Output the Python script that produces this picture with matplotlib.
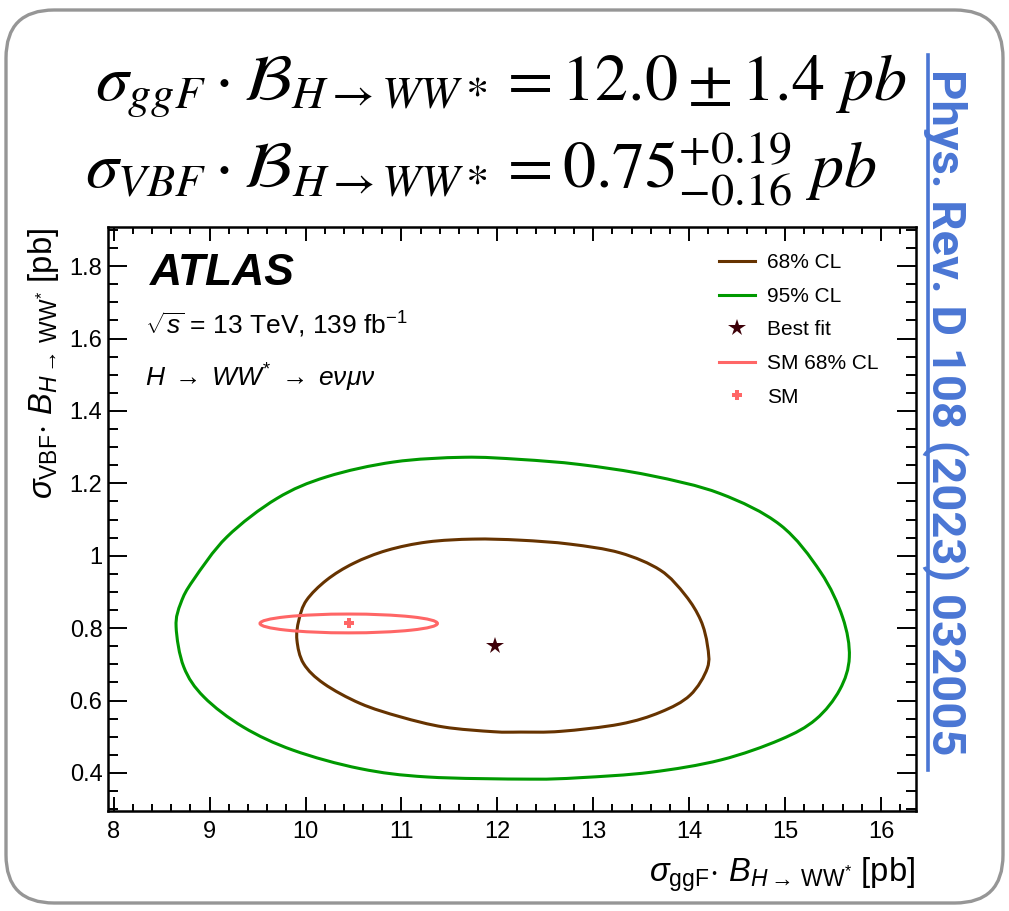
import matplotlib
matplotlib.use("Agg")
import matplotlib.pyplot as plt
from matplotlib.lines import Line2D
from matplotlib.patches import Ellipse, FancyBboxPatch, PathPatch
from matplotlib.path import Path
from matplotlib.ticker import MultipleLocator, FormatStrFormatter

# ── fonts ────────────────────────────────────────────────
plt.rcParams["font.family"] = ["Liberation Sans", "DejaVu Sans"]
plt.rcParams["mathtext.fontset"] = "custom"
plt.rcParams["mathtext.rm"] = "Liberation Sans"
plt.rcParams["mathtext.it"] = "Liberation Sans:italic"
plt.rcParams["mathtext.bf"] = "Liberation Sans:bold"

# ── 95% CL contour (sigma_ggF*B, sigma_VBF*B) ────────────
CL95_X = [11.65, 12.24, 12.86, 13.59, 14.32, 14.95, 15.37, 15.60, 15.67, 15.57,
          15.32, 14.95, 14.33, 13.60, 12.86, 12.34, 11.27, 10.57, 9.87, 9.35,
          8.94, 8.73, 8.65, 8.70, 8.83, 9.18, 9.70, 10.22, 10.92]
CL95_Y = [1.272, 1.266, 1.252, 1.222, 1.172, 1.085, 0.955, 0.830, 0.720, 0.630,
          0.548, 0.492, 0.436, 0.402, 0.387, 0.383, 0.389, 0.412, 0.463, 0.527,
          0.610, 0.693, 0.804, 0.870, 0.933, 1.052, 1.158, 1.218, 1.259]

# ── 68% CL contour ───────────────────────────────────────
CL68_X = [11.75, 12.24, 12.76, 13.28, 13.70, 13.96, 14.12, 14.19, 14.19, 14.01,
          13.70, 13.28, 12.66, 12.24, 11.96, 11.44, 10.99, 10.57, 10.19, 9.98,
          9.91, 9.93, 10.01, 10.22, 10.50, 10.85, 11.27]
CL68_Y = [1.046, 1.043, 1.032, 1.008, 0.960, 0.891, 0.822, 0.753, 0.690, 0.615,
          0.568, 0.535, 0.515, 0.513, 0.514, 0.527, 0.555, 0.592, 0.647, 0.702,
          0.767, 0.822, 0.877, 0.933, 0.979, 1.015, 1.038]

BEST_FIT = (11.98, 0.752)
SM_POINT = (10.45, 0.813)
SM_WIDTH = 1.85     # full extent of SM 68% CL in ggF
SM_HEIGHT = 0.052   # full extent of SM 68% CL in VBF

XLIM = (7.94, 16.36)
YLIM = (0.295, 1.908)

C68 = "#663300"
C95 = "#009900"
CSM = "#ff6666"
CBEST = "#3d0008"
CLINK = "#4a76d4"


def closed_curve(xs, ys):
    """Smooth closed path through the contour points (Catmull-Rom as cubic Bezier)."""
    n = len(xs)
    pts = list(zip(xs, ys))
    verts = [pts[0]]
    codes = [Path.MOVETO]
    for i in range(n):
        p0, p1 = pts[i - 1], pts[i]
        p2, p3 = pts[(i + 1) % n], pts[(i + 2) % n]
        c1 = (p1[0] + (p2[0] - p0[0]) / 6, p1[1] + (p2[1] - p0[1]) / 6)
        c2 = (p2[0] - (p3[0] - p1[0]) / 6, p2[1] - (p3[1] - p1[1]) / 6)
        verts += [c1, c2, p2]
        codes += [Path.CURVE4] * 3
    return Path(verts, codes)


W, H = 1009, 911
fig = plt.figure(figsize=(W / 100, H / 100), dpi=100)

# background layer in pixel coordinates (frame, headline, reference)
bg = fig.add_axes([0, 0, 1, 1], zorder=-1)
bg.set_xlim(0, W)
bg.set_ylim(H, 0)
bg.axis("off")
bg.add_patch(FancyBboxPatch((6, 10), 997, 893,
                            boxstyle="round,pad=0,rounding_size=48",
                            fc="white", ec="#969696", lw=2.4))

bg.text(95, 100, r"$\sigma_{ggF}\cdot\mathcal{B}_{H\rightarrow WW*} = 12.0\pm 1.4\ pb$",
        fontsize=47.5, math_fontfamily="stix", va="baseline", ha="left")
bg.text(85, 188, r"$\sigma_{VBF}\cdot\mathcal{B}_{H\rightarrow WW*} = 0.75^{+0.19}_{-0.16}\ pb$",
        fontsize=47.5, math_fontfamily="stix", va="baseline", ha="left")

bg.text(932, 412, "Phys. Rev. D 108 (2023) 032005", rotation=-90,
        rotation_mode="anchor", fontsize=34, fontweight="bold", family="Roboto",
        color=CLINK, ha="center", va="baseline")
bg.plot([928, 928], [55, 770], color=CLINK, lw=2.6)

# ── main plot ────────────────────────────────────────────
ax = fig.add_axes([108 / W, 1 - 811 / H, (915.5 - 108) / W, (811 - 227) / H])
ax.add_patch(PathPatch(closed_curve(CL95_X, CL95_Y), fill=False, ec=C95, lw=2.2))
ax.add_patch(PathPatch(closed_curve(CL68_X, CL68_Y), fill=False, ec=C68, lw=2.2))
ax.add_patch(Ellipse(SM_POINT, SM_WIDTH, SM_HEIGHT, fill=False, ec=CSM, lw=2.2))
ax.plot(*SM_POINT, marker="P", color=CSM, ms=7, mew=0)
ax.plot(*BEST_FIT, marker="*", color=CBEST, ms=13, mew=0)

ax.set_xlim(*XLIM)
ax.set_ylim(*YLIM)
ax.xaxis.set_major_locator(MultipleLocator(1))
ax.xaxis.set_minor_locator(MultipleLocator(0.2))
ax.yaxis.set_major_locator(MultipleLocator(0.2))
ax.yaxis.set_minor_locator(MultipleLocator(0.05))
ax.yaxis.set_major_formatter(FormatStrFormatter("%g"))
ax.tick_params(which="both", direction="in", top=True, right=True,
               labelsize=17, width=1.4)
ax.tick_params(axis="x", which="major", length=10, pad=7)
ax.tick_params(axis="x", which="minor", length=5)
ax.tick_params(axis="y", which="major", length=14, pad=4)
ax.tick_params(axis="y", which="minor", length=7)
for s in ax.spines.values():
    s.set_linewidth(1.8)

ax.text(0.052, 0.956, "ATLAS", transform=ax.transAxes, fontsize=32,
        fontweight="bold", fontstyle="italic", va="top")
ax.text(0.046, 0.816, r"$\sqrt{s}$ = 13 TeV, 139 fb$^{\mathrm{-1}}$",
        transform=ax.transAxes, fontsize=19, va="baseline")
ax.text(0.046, 0.727, r"$H\;\rightarrow\;WW^{*}\;\rightarrow\;e\nu\mu\nu$",
        transform=ax.transAxes, fontsize=19, va="baseline")

handles = [
    Line2D([], [], color=C68, lw=2.2),
    Line2D([], [], color=C95, lw=2.2),
    Line2D([], [], color=CBEST, marker="*", ls="", ms=13, mew=0),
    Line2D([], [], color=CSM, lw=2.2),
    Line2D([], [], color=CSM, marker="P", ls="", ms=7, mew=0),
]
ax.legend(handles, ["68% CL", "95% CL", "Best fit", "SM 68% CL", "SM"],
          loc="upper left", bbox_to_anchor=(0.757, 0.955), frameon=False,
          borderpad=0, borderaxespad=0, fontsize=15, handlelength=1.7,
          labelspacing=0.7, handletextpad=0.6)

# axis titles
fig.text(915 / W, 1 - 882 / H,
         r"$\sigma_{\mathrm{ggF}}\!\cdot\, B_{H\rightarrow\,\mathrm{WW}^{*}}$ [pb]",
         fontsize=23.5, ha="right", va="baseline")
fig.text(44 / W, 1 - 228 / H,
         r"$\sigma_{\mathrm{VBF}}\!\cdot\, B_{H\rightarrow\,\mathrm{WW}^{*}}$ [pb]",
         fontsize=23.5, ha="center", va="top", rotation=90)

fig.savefig("out.png", dpi=100)
